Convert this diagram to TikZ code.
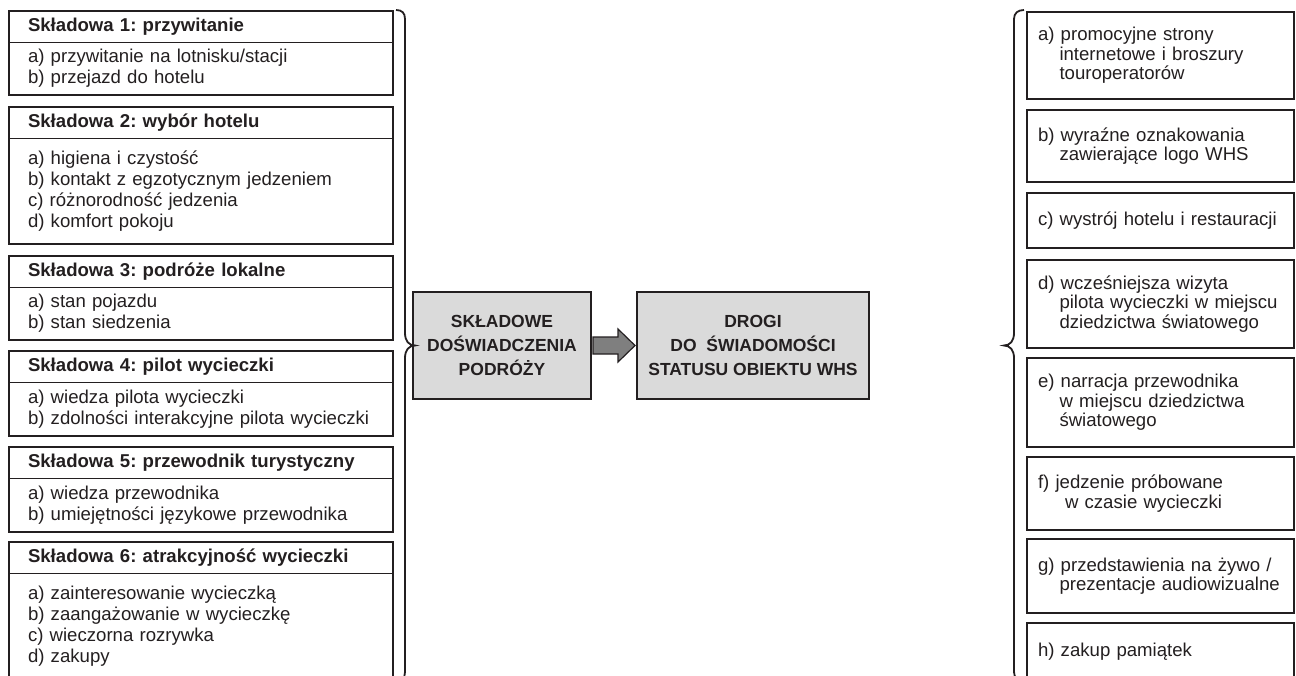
\documentclass[tikz,border=0pt]{standalone}
\usepackage{fontspec}
\setmainfont{Liberation Sans}
\usepackage{xcolor}
\usetikzlibrary{positioning}
\frenchspacing
\definecolor{ink}{HTML}{231F20}
\definecolor{boxgray}{HTML}{DADADA}
\definecolor{arrowgray}{HTML}{7F7F7F}
\newcommand{\indl}[1][21.5pt]{\hspace*{#1}}
\tikzset{
    header/.style={rectangle, draw=ink, line width=0.8pt, anchor=north west, text width=346pt, inner xsep=19pt, inner ysep=0pt, minimum height=31pt, align=left, font=\fontsize{18.6}{21}\selectfont\bfseries, outer sep=0pt, text=ink},
    items/.style={rectangle, draw=ink, line width=0.8pt, text width=346pt, inner xsep=19pt, inner ysep=0pt, align=left, font=\fontsize{18.6}{21}\selectfont, outer sep=0pt, text=ink},
    frame/.style={draw=ink, line width=2.4pt},
    mainbox/.style={rectangle, draw=ink, line width=2.4pt, fill=boxgray, align=center, minimum height=107pt, inner sep=0pt, outer sep=0pt, font=\fontsize{17.5}{24}\selectfont\bfseries, text=ink},
    route/.style={rectangle, draw=ink, line width=2.4pt, text width=245pt, inner xsep=11pt, inner ysep=0pt, align=left, outer sep=0pt, font=\fontsize{18.6}{19.5}\selectfont, text=ink},
    bigarrow/.style={draw=ink, line width=1.2pt, fill=arrowgray, line join=miter},
    brace/.style={draw=ink, line width=1.8pt}
}
\begin{document}
\begin{tikzpicture}[x=1pt, y=-1pt]
    \useasboundingbox (0,0) rectangle (1296,675);
    % left column: components
    \node (skl1) [header] at (9,11) {Składowa 1: przywitanie};
    \node (skl1list) [items, minimum height=53pt, below=0pt of skl1] {a) przywitanie na lotnisku/stacji\\b) przejazd do hotelu};
    \node (skl2) [header, below=12pt of skl1list] {Składowa 2: wybór hotelu};
    \node (skl2list) [items, minimum height=106pt, below=0pt of skl2] {a) higiena i czystość\\b) kontakt z egzotycznym jedzeniem\\c) różnorodność jedzenia\\d) komfort pokoju};
    \node (skl3) [header, below=12pt of skl2list] {Składowa 3: podróże lokalne};
    \node (skl3list) [items, minimum height=53pt, below=0pt of skl3] {a) stan pojazdu\\b) stan siedzenia};
    \node (skl4) [header, below=11pt of skl3list] {Składowa 4: pilot wycieczki};
    \node (skl4list) [items, minimum height=54pt, below=0pt of skl4] {a) wiedza pilota wycieczki\\b) zdolności interakcyjne pilota wycieczki};
    \node (skl5) [header, below=11pt of skl4list] {Składowa 5: przewodnik turystyczny};
    \node (skl5list) [items, minimum height=54pt, below=0pt of skl5] {a) wiedza przewodnika\\b) umiejętności językowe przewodnika};
    \node (skl6) [header, below=10pt of skl5list] {Składowa 6: atrakcyjność wycieczki};
    \node (skl6list) [items, minimum height=107pt, below=0pt of skl6] {a) zainteresowanie wycieczką\\b) zaangażowanie w wycieczkę\\c) wieczorna rozrywka\\d) zakupy};
    \foreach \n in {1,...,6}
        \draw[frame] (skl\n.north west) rectangle (skl\n list.south east);

    % middle
    \node (skladowe) [mainbox, minimum width=178pt] at (502,345.5) {SKŁADOWE\\DOŚWIADCZENIA\\PODRÓŻY};
    \node (drogi) [mainbox, minimum width=232pt, right=46pt of skladowe] {DROGI\\DO\ \ ŚWIADOMOŚCI\\STATUSU OBIEKTU WHS};
    \draw[bigarrow] (skladowe.east) ++(2,-8.5) -- ++(25,0) -- ++(0,-8) -- ++(17,16.5) -- ++(-17,16.5) -- ++(0,-8) -- ++(-25,0) -- cycle;

    % right column: paths to awareness
    \node (routeA) [route, anchor=north west, minimum height=87pt] at (1027,12) {a) promocyjne strony\\\indl internetowe i broszury\\\indl touroperatorów};
    \node (routeB) [route, minimum height=72pt, below=11pt of routeA] {b) wyraźne oznakowania\\\indl zawierające logo WHS};
    \node (routeC) [route, minimum height=55pt, below=11pt of routeB] {c) wystrój hotelu i restauracji};
    \node (routeD) [route, minimum height=88pt, below=12pt of routeC] {d) wcześniejsza wizyta\\\indl pilota wycieczki w miejscu\\\indl dziedzictwa światowego};
    \node (routeE) [route, minimum height=89pt, below=10pt of routeD] {e) narracja przewodnika\\\indl w miejscu dziedzictwa\\\indl światowego};
    \node (routeF) [route, minimum height=73pt, below=10pt of routeE] {f) jedzenie próbowane\\\indl[27pt]w czasie wycieczki};
    \node (routeG) [route, minimum height=74pt, below=9pt of routeF] {g) przedstawienia na żywo /\\\indl prezentacje audiowizualne};
    \node (routeH) [route, minimum height=58pt, below=10pt of routeG] {h) zakup pamiątek};

    % braces
    \draw[brace] (396,10) .. controls (402,10) and (405,13) .. (405,19) -- (405,333)
        .. controls (405,341) and (409,345.5) .. (415,345.5)
        .. controls (409,345.5) and (405,350) .. (405,358) -- (405,672)
        .. controls (405,678) and (402,681) .. (396,681);
    \draw[brace] (1024,10) .. controls (1018,10) and (1014,13) .. (1014,19) -- (1014,333)
        .. controls (1014,341) and (1010,345.5) .. (1004,345.5)
        .. controls (1010,345.5) and (1014,350) .. (1014,358) -- (1014,672)
        .. controls (1014,678) and (1018,681) .. (1024,681);
\end{tikzpicture}
\end{document}
